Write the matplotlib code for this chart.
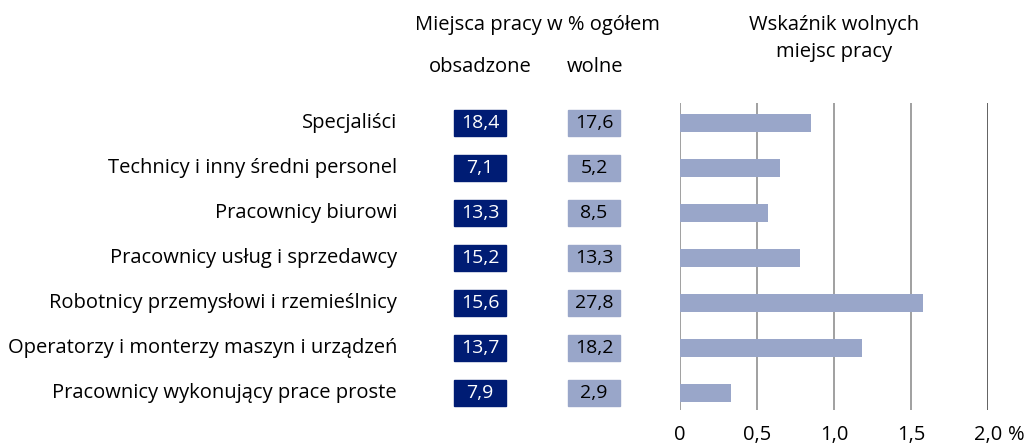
import matplotlib
matplotlib.use("Agg")
import matplotlib.pyplot as plt
from matplotlib.patches import Rectangle
from matplotlib.transforms import blended_transform_factory

categories = [
    "Specjaliści",
    "Technicy i inny średni personel",
    "Pracownicy biurowi",
    "Pracownicy usług i sprzedawcy",
    "Robotnicy przemysłowi i rzemieślnicy",
    "Operatorzy i monterzy maszyn i urządzeń",
    "Pracownicy wykonujący prace proste",
]
obsadzone = [18.4, 7.1, 13.3, 15.2, 15.6, 13.7, 7.9]
wolne = [17.6, 5.2, 8.5, 13.3, 27.8, 18.2, 2.9]
wskaznik = [0.85, 0.65, 0.57, 0.78, 1.58, 1.18, 0.33]
xticks = [0, 0.5, 1.0, 1.5, 2.0]
xticklabels = ["0", "0,5", "1,0", "1,5", "2,0"]

DARK = "#001C74"
LIGHT = "#99A6C9"
FONT = "Open Sans"
FS = 14.5
FSB = 14

plt.rcParams['font.family'] = [FONT, 'DejaVu Sans']

W, H = 1027, 443
fig = plt.figure(figsize=(W / 100, H / 100), dpi=100)

def fx(px):
    return px / W

def fy(py):
    return 1 - py / H

ax_left, ax_right, ax_top, ax_bot = 680, 988, 103, 410
ax = fig.add_axes([fx(ax_left), fy(ax_bot), fx(ax_right - ax_left), (ax_bot - ax_top) / H])
rows = list(range(len(categories)))
ax.barh(rows, wskaznik, height=0.4, color=LIGHT, zorder=3)
ax.set_xlim(0, 2.0)
ax.set_ylim(6.38, -0.44)
for t in xticks:
    ax.axvline(t, color="#555555" if t == 2.0 else "#999999", lw=1.3, zorder=1)
for s in ax.spines.values():
    s.set_visible(False)
ax.set_yticks([])
ax.set_xticks([])

trx = blended_transform_factory(ax.transData, fig.transFigure)
for t, lab in zip(xticks, xticklabels):
    ax.text(t, fy(435), lab, transform=trx, fontsize=FS, ha="center", va="center", clip_on=False)
fig.text(fx(1008), fy(435), "%", fontsize=FS, ha="left", va="center")

tr = blended_transform_factory(fig.transFigure, ax.transData)
bw = 52 / W
bh = 26 / 45
for i, r in enumerate(rows):
    ax.text(fx(397), r, categories[i], transform=tr, fontsize=FS, ha="right", va="center")
    ax.add_patch(Rectangle((fx(454), r - bh / 2), bw, bh, transform=tr, color=DARK, clip_on=False))
    ax.text(fx(480), r, f"{obsadzone[i]:.1f}".replace(".", ","), transform=tr, fontsize=FSB,
            ha="center", va="center", color="white")
    ax.add_patch(Rectangle((fx(568), r - bh / 2), bw, bh, transform=tr, color=LIGHT, clip_on=False))
    ax.text(fx(594), r, f"{wolne[i]:.1f}".replace(".", ","), transform=tr, fontsize=FSB,
            ha="center", va="center", color="black")

fig.text(fx(537), fy(25), "Miejsca pracy w % ogółem", fontsize=FS, ha="center", va="center")
fig.text(fx(480), fy(67), "obsadzone", fontsize=FS, ha="center", va="center")
fig.text(fx(595), fy(67), "wolne", fontsize=FS, ha="center", va="center")
fig.text(fx(834), fy(25), "Wskaźnik wolnych", fontsize=FS, ha="center", va="center")
fig.text(fx(834), fy(52), "miejsc pracy", fontsize=FS, ha="center", va="center")

fig.savefig("out.png", dpi=100)
